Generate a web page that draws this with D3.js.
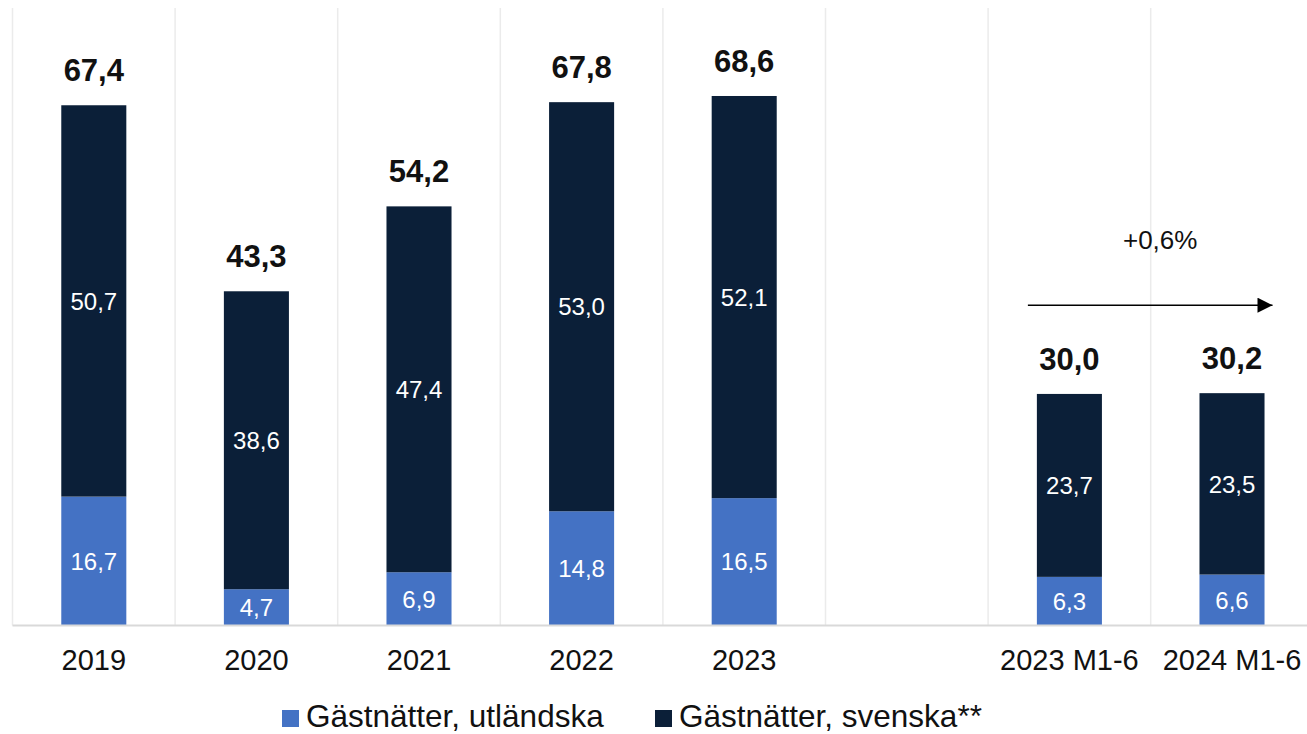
<!DOCTYPE html>
<html>
<head>
<meta charset="utf-8">
<script src="https://cdn.jsdelivr.net/npm/d3@7"></script>
<style>
  html, body { margin: 0; padding: 0; background: #fff; }
  svg { display: block; font-family: "Liberation Sans", Arial, sans-serif; }
</style>
</head>
<body>
<svg id="chart" width="1307" height="734"></svg>
<script>
const categories = ["2019", "2020", "2021", "2022", "2023", "", "2023 M1-6", "2024 M1-6"];
const foreignNights = [16.7, 4.7, 6.9, 14.8, 16.5, null, 6.3, 6.6];
const swedishNights = [50.7, 38.6, 47.4, 53.0, 52.1, null, 23.7, 23.5];
const totalLabels = ["67,4", "43,3", "54,2", "67,8", "68,6", null, "30,0", "30,2"];
const seriesNames = ["Gästnätter, utländska", "Gästnätter, svenska**"];
const seriesColors = ["#4472C4", "#0B1F38"];
const changeLabel = "+0,6%";

(function () {
const svg = d3.select("#chart");
const pLeft = 12.5, pRight = 1313.3, pTop = 8, pBottom = 625.5;

const x = d3.scaleBand().domain(categories.map((c, i) => i)).range([pLeft, pRight])
  .paddingInner(0.6).paddingOuter(0.3);
const y = d3.scaleLinear().domain([0, 80]).range([pBottom, pTop]);
const fmt = v => d3.format(".1f")(v).replace(".", ",");

// vertical gridlines at slot boundaries
const step = x.step();
const bounds = d3.range(categories.length + 1).map(i => pLeft + i * step);
svg.append("g").selectAll("line").data(bounds).join("line")
  .attr("x1", d => d).attr("x2", d => d)
  .attr("y1", pTop).attr("y2", pBottom)
  .attr("stroke", "#ebebeb").attr("stroke-width", 1.5);

// stacked data
const rows = categories.map((c, i) => ({ i, f: foreignNights[i], s: swedishNights[i], t: totalLabels[i] }))
  .filter(d => d.f != null);
const stack = d3.stack().keys(["f", "s"])(rows);

const g = svg.append("g");
stack.forEach((layer, k) => {
  g.append("g").selectAll("rect").data(layer).join("rect")
    .attr("x", d => x(d.data.i))
    .attr("width", x.bandwidth())
    .attr("y", d => y(d[1]))
    .attr("height", d => y(d[0]) - y(d[1]))
    .attr("fill", seriesColors[k]);
  g.append("g").selectAll("text").data(layer).join("text")
    .attr("x", d => x(d.data.i) + x.bandwidth() / 2)
    .attr("y", d => (y(d[0]) + y(d[1])) / 2)
    .attr("dy", "0.36em")
    .attr("text-anchor", "middle")
    .attr("fill", "#fff")
    .attr("font-size", 24)
    .text(d => fmt(d[1] - d[0]));
});

// totals
g.append("g").selectAll("text").data(rows).join("text")
  .attr("x", d => x(d.i) + x.bandwidth() / 2)
  .attr("y", d => y(d.f + d.s) - 24)
  .attr("text-anchor", "middle")
  .attr("font-size", 31)
  .attr("font-weight", "bold")
  .attr("fill", "#111")
  .text(d => d.t);

// baseline
svg.append("line").attr("x1", pLeft).attr("x2", pRight).attr("y1", pBottom).attr("y2", pBottom)
  .attr("stroke", "#d9d9d9").attr("stroke-width", 2);

// x axis
const axis = svg.append("g").attr("transform", `translate(0,${pBottom})`)
  .call(d3.axisBottom(x).tickSize(0).tickPadding(24).tickFormat(i => categories[i]));
axis.select(".domain").remove();
axis.selectAll("text").attr("font-size", 29).attr("fill", "#111")
  .attr("font-family", "Liberation Sans, Arial, sans-serif");

// change annotation
const i1 = categories.indexOf("2023 M1-6"), i2 = categories.indexOf("2024 M1-6");
const ax1 = x(i1) - 9, ax2 = x(i2) + x.bandwidth() + 8, ay = y(41.5);
svg.append("defs").append("marker").attr("id", "arr")
  .attr("viewBox", "0 0 10 10").attr("refX", 10).attr("refY", 5)
  .attr("markerWidth", 16).attr("markerHeight", 15).attr("markerUnits", "userSpaceOnUse")
  .attr("orient", "auto")
  .append("path").attr("d", "M0,0 L10,5 L0,10 Z").attr("fill", "#000");
svg.append("line").attr("x1", ax1).attr("x2", ax2).attr("y1", ay).attr("y2", ay)
  .attr("stroke", "#000").attr("stroke-width", 1.5).attr("marker-end", "url(#arr)");
svg.append("text").attr("x", (ax1 + ax2) / 2 + 10).attr("y", y(48.8))
  .attr("text-anchor", "middle").attr("font-size", 26).attr("fill", "#111")
  .text(changeLabel);

// legend
const legendPos = [282, 655];
const lg = svg.append("g");
seriesNames.forEach((name, k) => {
  lg.append("rect").attr("x", legendPos[k]).attr("y", 710).attr("width", 17).attr("height", 17)
    .attr("fill", seriesColors[k]);
  lg.append("text").attr("x", legendPos[k] + 24).attr("y", 727)
    .attr("font-size", 31.5).attr("fill", "#111").text(name);
});
})();
</script>
</body>
</html>
